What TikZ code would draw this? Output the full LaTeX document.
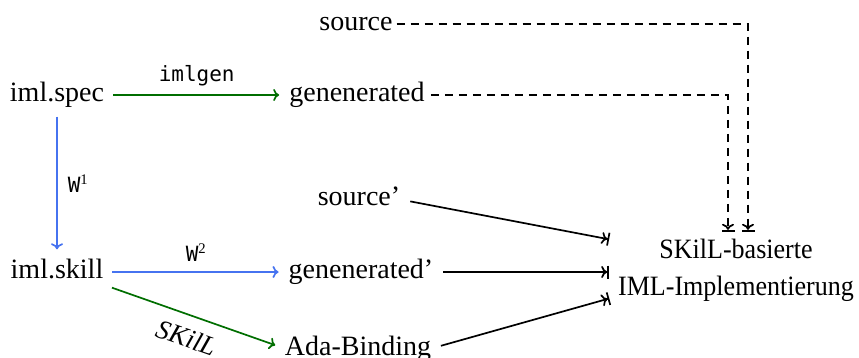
\documentclass[tikz,border=0pt]{standalone}
\usepackage{fontspec}
\setmainfont{Liberation Serif}
\setmonofont{DejaVu Sans Mono}
\newfontfamily\narrowserif[FakeStretch=0.93]{Liberation Serif}
\usetikzlibrary{arrows.meta}
\definecolor{dgreen}{RGB}{0,110,0}
\definecolor{lblue}{RGB}{70,115,240}
\begin{document}
\begin{tikzpicture}[x=1pt,y=-1pt,
  lbl/.style={font=\fontsize{28}{37}\selectfont, text height=19pt, text depth=6pt, inner sep=0pt},
  tlbl/.style={font=\fontsize{21}{24}\selectfont\ttfamily, inner sep=0pt},
  conn/.style={line width=1.7pt, shorten <=9pt, shorten >=10pt},
  tipto/.style={-{To[length=6pt,width=12pt]}},
  garr/.style={conn, draw=dgreen, tipto},
  barr/.style={conn, draw=lblue, tipto},
  karr/.style={line width=1.7pt, -{To[length=6pt,width=12pt,sep=0pt]Bar[width=13pt]}},
  darr/.style={karr, dash pattern=on 8pt off 6pt}
]
\useasboundingbox (0,0) rectangle (859,358);

\node[lbl] (src)  at (356,24) {source};
\node[lbl] (spec) at (57,95) {iml.spec};
\node[lbl] (gen)  at (357,95) {genenerated};
\node[lbl] (src2) at (359,199.5) {source’};
\node[lbl] (skill) at (57,272) {iml.skill};
\node[lbl] (gen2) at (361,272) {genenerated’};
\node[lbl] (ada)  at (358,348.5) {Ada-Binding};
\node[font=\fontsize{28}{37}\selectfont\narrowserif, inner sep=0pt, align=center] (impl) at (736,270) {SKilL-basierte\\IML-Implementierung};

\draw[garr] (spec) -- node[tlbl, above=8pt] (imlgen) {imlgen} (gen);
\draw[barr] (spec) -- node[tlbl, right=10pt] (w1) {W\textsuperscript{\rmfamily 1}} (skill);
\draw[barr] (skill) -- node[tlbl, above=10pt] (w2) {W\textsuperscript{\rmfamily 2}} (gen2);
\draw[garr] (skill.south east) -- node[below=12pt, sloped, inner sep=0pt, font=\fontsize{27}{30}\selectfont\itshape] (skl) {SKilL} (ada.west);

\draw[karr, shorten <=10pt, shorten >=9pt] (src2.east) -- ([yshift=29pt]impl.west);
\draw[karr, shorten <=10pt, shorten >=9pt] (gen2.east) -- ([yshift=-2pt]impl.west);
\draw[karr, shorten <=10pt, shorten >=9pt] (ada.east) -- ([yshift=-26pt]impl.west);

\draw[darr, shorten <=4pt, shorten >=7pt] (src.east) -| ([xshift=12pt]impl.north);
\draw[darr, shorten <=6pt, shorten >=7pt] (gen.east) -| ([xshift=-8pt]impl.north);
\end{tikzpicture}
\end{document}
